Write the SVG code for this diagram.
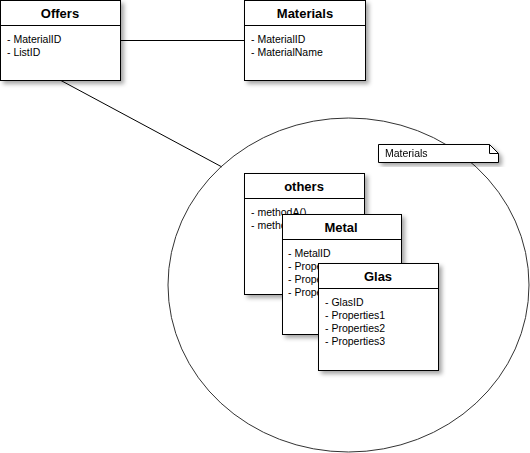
<svg xmlns="http://www.w3.org/2000/svg" width="530" height="453" viewBox="0 0 530 453">
<defs>
<filter id="sh" x="-10%" y="-10%" width="130%" height="130%">
<feDropShadow dx="3" dy="3" stdDeviation="2" flood-color="#000" flood-opacity="0.35"/>
</filter>
<clipPath id="clipOthers"><rect x="244" y="200" width="38" height="40"/></clipPath>
<clipPath id="clipMetal"><rect x="282" y="262" width="36" height="40"/></clipPath>
<style>
.box{fill:#fff;stroke:#000;stroke-width:1}
.div{stroke:#000;stroke-width:1}
.t{font-family:"Liberation Sans",Arial,sans-serif;font-size:13px;font-weight:bold;text-anchor:middle;fill:#000}
.a{font-family:"Liberation Sans",Arial,sans-serif;font-size:10.5px;fill:#000}
.ln{stroke:#000;stroke-width:1;fill:none}
</style>
</defs>
<rect width="530" height="453" fill="#fff"/>
<g id="connectors">
<line class="ln" x1="120" y1="40.5" x2="244" y2="40.5"/>
<line class="ln" x1="60" y1="80" x2="222" y2="167"/>
</g>
<g id="package">
<ellipse cx="348.5" cy="285" rx="180.5" ry="167" fill="none" stroke="#333" stroke-width="1"/>
</g>
<g id="note" filter="url(#sh)">
<path d="M378.5 144.5 H489.5 L498.5 153.5 V162.5 H378.5 Z" fill="#fff" stroke="#000"/>
<path d="M489.5 144.5 V153.5 H498.5" fill="none" stroke="#000"/>
<text class="a" x="385" y="157">Materials</text>
</g>
<g id="offers">
<rect class="box" x="0.5" y="0.5" width="120" height="80" filter="url(#sh)"/>
<line class="div" x1="0.5" y1="25.5" x2="120.5" y2="25.5"/>
<text class="t" x="60" y="18">Offers</text>
<text class="a" x="7" y="43">- MaterialID</text>
<text class="a" x="7" y="56">- ListID</text>
</g>
<g id="materials">
<rect class="box" x="244.5" y="0.5" width="121" height="80" filter="url(#sh)"/>
<line class="div" x1="244.5" y1="25.5" x2="365.5" y2="25.5"/>
<text class="t" x="305" y="18">Materials</text>
<text class="a" x="251" y="43">- MaterialID</text>
<text class="a" x="251" y="56">- MaterialName</text>
</g>
<g id="others">
<rect class="box" x="244.5" y="173.5" width="120" height="121" filter="url(#sh)"/>
<line class="div" x1="244.5" y1="198.5" x2="364.5" y2="198.5"/>
<text class="t" x="304" y="191">others</text>
<text class="a" x="251" y="216">- methodA()</text>
<text class="a" x="251" y="229" clip-path="url(#clipOthers)">- methodB()</text>
</g>
<g id="metal">
<rect class="box" x="282.5" y="214.5" width="119" height="120" filter="url(#sh)"/>
<line class="div" x1="282.5" y1="239.5" x2="401.5" y2="239.5"/>
<text class="t" x="341" y="232">Metal</text>
<text class="a" x="288" y="257">- MetalID</text>
<text class="a" x="288" y="270" clip-path="url(#clipMetal)">- Properties1</text>
<text class="a" x="288" y="283" clip-path="url(#clipMetal)">- Properties2</text>
<text class="a" x="288" y="296" clip-path="url(#clipMetal)">- Properties3</text>
</g>
<g id="glas">
<rect class="box" x="318.5" y="263.5" width="120" height="107" filter="url(#sh)"/>
<line class="div" x1="318.5" y1="288.5" x2="438.5" y2="288.5"/>
<text class="t" x="378" y="281">Glas</text>
<text class="a" x="325" y="306">- GlasID</text>
<text class="a" x="325" y="319">- Properties1</text>
<text class="a" x="325" y="332">- Properties2</text>
<text class="a" x="325" y="345">- Properties3</text>
</g>
</svg>
